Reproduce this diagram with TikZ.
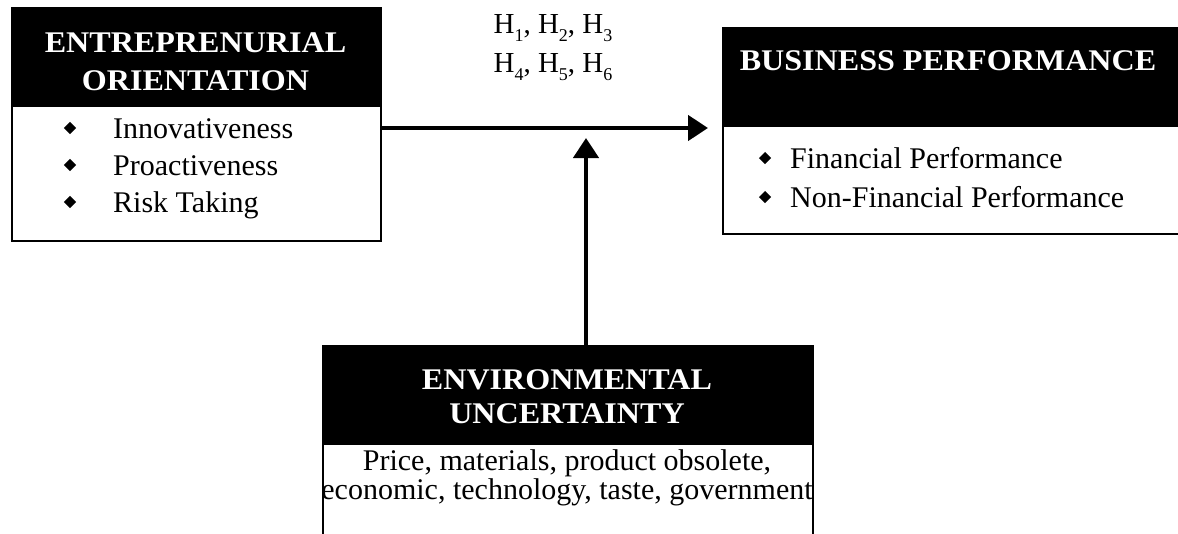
\documentclass[tikz,border=0pt]{standalone}
\usepackage{fontspec}
\setmainfont{Liberation Serif}
\newfontfamily\headfont{Liberation Serif}[FakeStretch=1.07]
\newcommand{\hsb}[1]{\raisebox{-8pt}{\fontsize{18}{18}\selectfont #1}}
\usetikzlibrary{arrows.meta}
\begin{document}
\begin{tikzpicture}[x=1pt,y=-1pt,
  hdr/.style={draw=black, fill=black, line width=2pt, inner sep=0pt, anchor=north west},
  bod/.style={draw=black, fill=white, line width=2pt, inner sep=0pt, anchor=north west},
  htxt/.style={text=white, font=\fontsize{30}{36}\selectfont\headfont\bfseries, anchor=base, inner sep=0pt},
  btxt/.style={font=\fontsize{30}{36}\selectfont, anchor=base west, inner sep=0pt},
  ctxt/.style={font=\fontsize{30}{36}\selectfont, anchor=base, inner sep=0pt},
  hyp/.style={font=\fontsize{29}{34}\selectfont, anchor=base, inner sep=0pt},
  bul/.style={fill=black, minimum size=8.5pt, inner sep=0pt, rotate=45},
  arr/.style={line width=4.5pt, -{Triangle[length=20pt,width=25pt]}}]
\useasboundingbox (0,0) rectangle (1178,533);
\clip (0,0) rectangle (1178,533);
% Entrepreneurial orientation
\node[hdr, minimum width=369pt, minimum height=98pt] (eoH) at (11,7) {};
\node[bod, minimum width=369pt, minimum height=135pt] (eoB) at (11,105) {};
\node[htxt] (eoT1) at (195.5,52) {ENTREPRENURIAL};
\node[htxt] (eoT2) at (195.5,90) {ORIENTATION};
\node[bul] (eoD1) at (70,128) {};
\node[bul] (eoD2) at (70,165) {};
\node[bul] (eoD3) at (70,202) {};
\node[btxt] (eoI1) at (113,138) {Innovativeness};
\node[btxt] (eoI2) at (113,175) {Proactiveness};
\node[btxt] (eoI3) at (113,212) {Risk Taking};
% Business performance
\node[hdr, minimum width=470pt, minimum height=98pt] (bpH) at (722,27) {};
\node[bod, minimum width=470pt, minimum height=108pt] (bpB) at (722,125) {};
\node[htxt] (bpT) at (948,70) {BUSINESS PERFORMANCE};
\node[bul] (bpD1) at (765,158) {};
\node[bul] (bpD2) at (765,197) {};
\node[btxt] (bpI1) at (790,168) {Financial Performance};
\node[btxt] (bpI2) at (790,207) {Non-Financial Performance};
% Environmental uncertainty
\node[hdr, minimum width=490pt, minimum height=98pt] (euH) at (322,345) {};
\node[bod, minimum width=490pt, minimum height=160pt] (euB) at (322,443) {};
\node[htxt] (euT1) at (567,389) {ENVIRONMENTAL};
\node[htxt] (euT2) at (567,423) {UNCERTAINTY};
\node[ctxt] (euL1) at (567,470) {Price, materials, product obsolete,};
\node[ctxt] (euL2) at (567,499) {economic, technology, taste, government};
% Hypotheses
\node[hyp] (h1) at (553,33) {H\hsb{1}, H\hsb{2}, H\hsb{3}};
\node[hyp] (h2) at (553,72) {H\hsb{4}, H\hsb{5}, H\hsb{6}};
% Connectors
\coordinate (tipH) at (708,128);
\coordinate (tipV) at (586,138);
\draw[arr] (eoB.east |- tipH) -- (tipH);
\draw[arr] (euH.north -| tipV) -- (tipV);
\end{tikzpicture}
\end{document}
